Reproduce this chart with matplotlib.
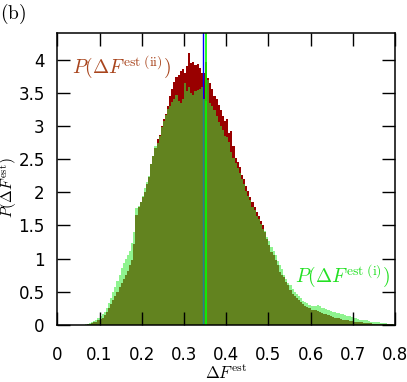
import numpy as np
import matplotlib
matplotlib.use("Agg")
import matplotlib.pyplot as plt

plt.rcParams['mathtext.fontset'] = 'cm'

# histogram bins: 0.06 .. 0.80, width 0.005
bin_lo, bin_w = 0.06, 0.005

# P(dF est (i)) - light green
p_i = [0.0, 0.01, 0.02, 0.03, 0.04, 0.06, 0.08, 0.10, 0.13, 0.16,
       0.20, 0.26, 0.33, 0.40, 0.50, 0.58, 0.66, 0.76, 0.86, 0.93,
       1.00, 1.06, 1.12, 1.23, 1.40, 1.76, 1.80, 1.86, 1.95, 2.06,
       2.15, 2.25, 2.42, 2.55, 2.69, 2.74, 2.85, 2.99, 3.08, 3.16,
       3.25, 3.30, 3.36, 3.41, 3.46, 3.38, 3.35, 3.40, 3.64, 3.52,
       3.58, 3.50, 3.47, 3.52, 3.54, 3.55, 3.58, 3.40, 3.38, 3.69,
       3.34, 3.30, 3.24, 3.15, 3.06, 3.00, 2.94, 2.85, 2.84, 2.76,
       2.60, 2.52, 2.44, 2.36, 2.29, 2.20, 2.12, 2.02, 1.95, 1.88,
       1.78, 1.73, 1.65, 1.60, 1.52, 1.45, 1.41, 1.33, 1.26, 1.18,
       1.12, 1.05, 0.96, 0.90, 0.85, 0.76, 0.70, 0.64, 0.60, 0.55,
       0.50, 0.47, 0.44, 0.40, 0.36, 0.35, 0.33, 0.30, 0.28, 0.28,
       0.28, 0.30, 0.28, 0.26, 0.25, 0.24, 0.22, 0.21, 0.20, 0.19,
       0.18, 0.18, 0.17, 0.16, 0.15, 0.14, 0.14, 0.12, 0.10, 0.10,
       0.09, 0.08, 0.08, 0.07, 0.07, 0.06, 0.05, 0.05, 0.05, 0.04,
       0.04, 0.03, 0.03, 0.03, 0.02, 0.02, 0.02, 0.01]

# P(dF est (ii)) - dark red
p_ii = [0.0, 0.0, 0.01, 0.02, 0.03, 0.04, 0.05, 0.07, 0.09, 0.11,
        0.15, 0.20, 0.25, 0.31, 0.37, 0.44, 0.50, 0.57, 0.63, 0.70,
        0.76, 0.82, 0.90, 0.98, 1.22, 1.66, 1.78, 1.85, 1.93, 2.00,
        2.12, 2.23, 2.42, 2.55, 2.66, 2.80, 2.86, 3.00, 3.10, 3.18,
        3.30, 3.45, 3.55, 3.66, 3.74, 3.76, 3.82, 3.86, 3.80, 3.90,
        4.10, 3.95, 3.97, 3.92, 3.94, 3.88, 3.80, 3.79, 3.97, 3.72,
        3.64, 3.55, 3.45, 3.40, 3.32, 3.24, 3.15, 3.08, 3.10, 2.90,
        2.92, 2.70, 2.52, 2.45, 2.38, 2.26, 2.20, 2.10, 2.02, 1.93,
        1.85, 1.78, 1.70, 1.64, 1.57, 1.50, 1.40, 1.30, 1.20, 1.10,
        1.05, 0.98, 0.90, 0.80, 0.75, 0.72, 0.65, 0.60, 0.53, 0.47,
        0.43, 0.40, 0.37, 0.35, 0.32, 0.29, 0.27, 0.25, 0.23, 0.23,
        0.22, 0.21, 0.19, 0.18, 0.17, 0.16, 0.15, 0.14, 0.12, 0.11,
        0.10, 0.10, 0.09, 0.08, 0.08, 0.07, 0.06, 0.06, 0.05, 0.05,
        0.04, 0.04, 0.04, 0.03, 0.03, 0.03, 0.03, 0.02, 0.02, 0.02,
        0.02, 0.02, 0.01, 0.01, 0.01, 0.01, 0.01, 0.0]

# mean values (vertical lines)
mean_ii = 0.3456
mean_i = 0.352

xticks = [0, 0.1, 0.2, 0.3, 0.4, 0.5, 0.6, 0.7, 0.8]
yticks = [0, 0.5, 1, 1.5, 2, 2.5, 3, 3.5, 4]

edges = bin_lo + bin_w * np.arange(len(p_i) + 1)

fig = plt.figure(figsize=(4.07, 3.82), dpi=100)
ax = fig.add_axes([0.1408, 0.1492, 0.8297, 0.7644])

ax.stairs(p_ii, edges, fill=True, color='#990000', lw=0, zorder=1)
ax.axvline(mean_ii, color='#0000ff', lw=1.0, zorder=1.2)
ax.stairs(p_i, edges, fill=True, color=(0.22, 0.92, 0.22), alpha=0.56, lw=0, zorder=1.4)
ax.axvline(mean_i, color='#00ff00', lw=1.2, zorder=1.6)

ax.set_xlim(0, 0.8)
ax.set_ylim(0, 4.4)
ax.set_xticks(xticks)
ax.set_yticks(yticks)
ax.set_xticklabels(['%g' % t for t in xticks])
ax.set_yticklabels(['%g' % t for t in yticks])
ax.tick_params(direction='in', length=9.5, width=1.0, top=True, right=True,
               labelsize=12, color='black')
ax.tick_params(axis='x', pad=15)
ax.tick_params(axis='y', pad=9)
for s in ax.spines.values():
    s.set_linewidth(1.1)

ax.set_xlabel(r'$\Delta F^{\mathrm{est}}$', fontsize=12, labelpad=1)
ax.set_ylabel(r'$P(\Delta F^{\mathrm{est}})$', fontsize=11)
ax.yaxis.set_label_coords(-0.112, 0.47)

ax.text(0.035, 3.80, r'$P(\Delta F^{\mathrm{est\ (ii)}})$', color='#a8441c',
        fontsize=14, va='baseline', ha='left')
ax.text(0.563, 0.65, r'$P(\Delta F^{\mathrm{est\ (i)}})$', color='#22e022',
        fontsize=14, va='baseline', ha='left')

fig.text(0.0, 0.995, r'$\mathrm{(b)}$', fontsize=14, va='top', ha='left')

fig.savefig('out.png', dpi=100)
